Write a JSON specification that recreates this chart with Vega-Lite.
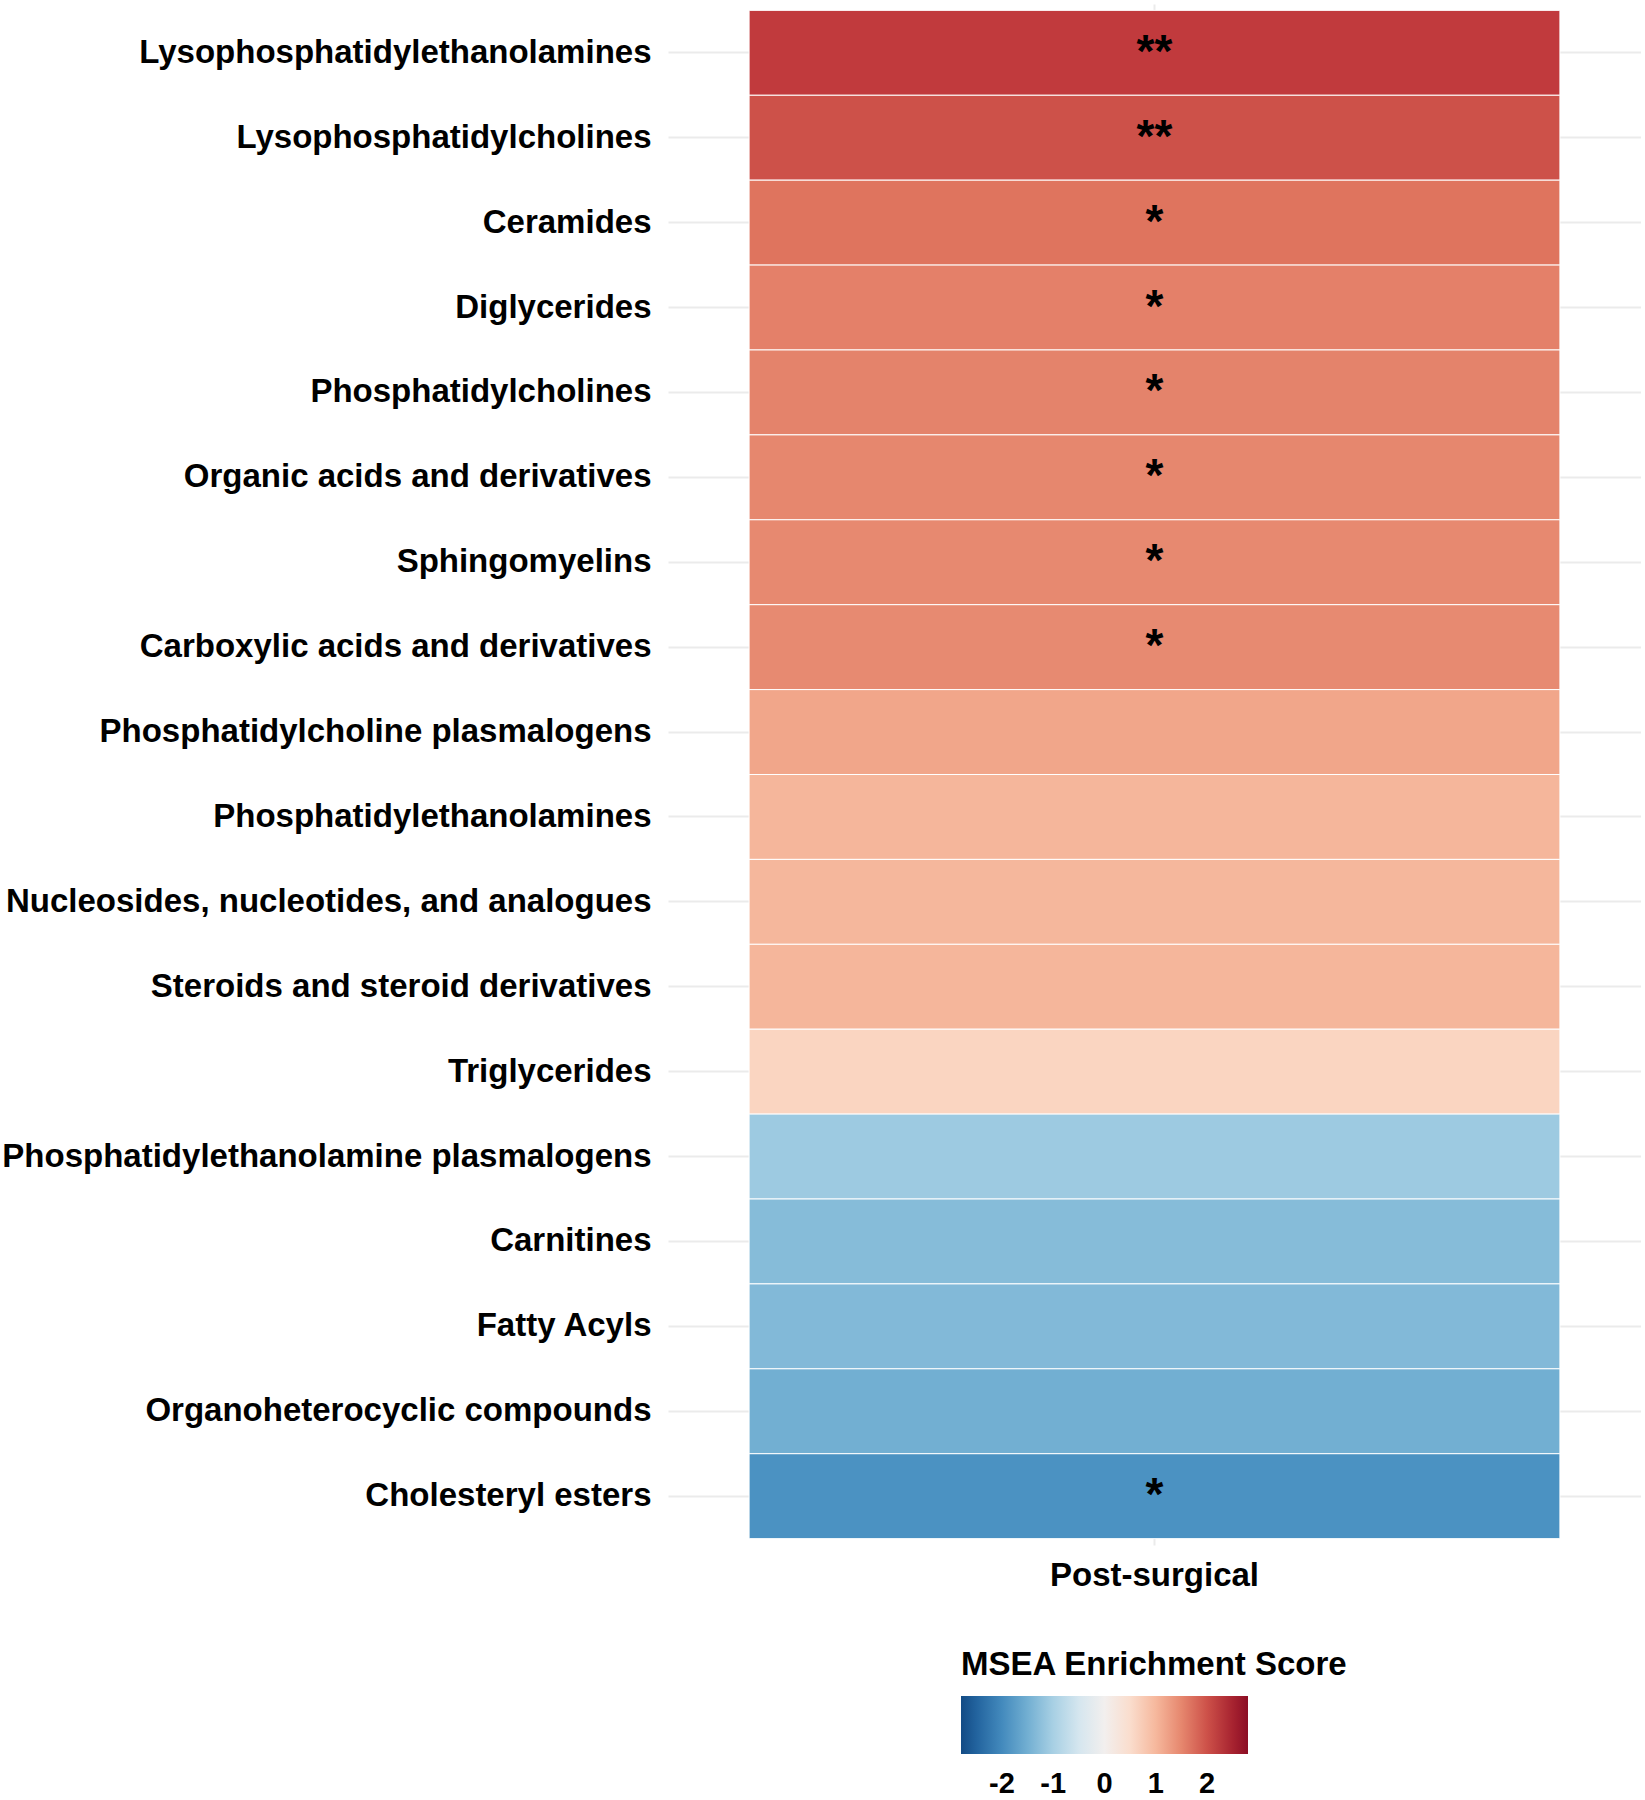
{
  "$schema": "https://vega.github.io/schema/vega-lite/v6.json",
  "width": 973,
  "height": 1541,
  "padding": {"left": 0, "top": 4, "right": 0, "bottom": 0},
  "background": "white",
  "data": {
    "values": [
      {"class": "Lysophosphatidylethanolamines", "group": "Post-surgical", "score": 2.2, "sig": "**"},
      {"class": "Lysophosphatidylcholines", "group": "Post-surgical", "score": 2.0, "sig": "**"},
      {"class": "Ceramides", "group": "Post-surgical", "score": 1.68, "sig": "*"},
      {"class": "Diglycerides", "group": "Post-surgical", "score": 1.56, "sig": "*"},
      {"class": "Phosphatidylcholines", "group": "Post-surgical", "score": 1.54, "sig": "*"},
      {"class": "Organic acids and derivatives", "group": "Post-surgical", "score": 1.50, "sig": "*"},
      {"class": "Sphingomyelins", "group": "Post-surgical", "score": 1.48, "sig": "*"},
      {"class": "Carboxylic acids and derivatives", "group": "Post-surgical", "score": 1.47, "sig": "*"},
      {"class": "Phosphatidylcholine plasmalogens", "group": "Post-surgical", "score": 1.2, "sig": ""},
      {"class": "Phosphatidylethanolamines", "group": "Post-surgical", "score": 1.02, "sig": ""},
      {"class": "Nucleosides, nucleotides, and analogues", "group": "Post-surgical", "score": 1.01, "sig": ""},
      {"class": "Steroids and steroid derivatives", "group": "Post-surgical", "score": 1.02, "sig": ""},
      {"class": "Triglycerides", "group": "Post-surgical", "score": 0.64, "sig": ""},
      {"class": "Phosphatidylethanolamine plasmalogens", "group": "Post-surgical", "score": -1.12, "sig": ""},
      {"class": "Carnitines", "group": "Post-surgical", "score": -1.32, "sig": ""},
      {"class": "Fatty Acyls", "group": "Post-surgical", "score": -1.36, "sig": ""},
      {"class": "Organoheterocyclic compounds", "group": "Post-surgical", "score": -1.5, "sig": ""},
      {"class": "Cholesteryl esters", "group": "Post-surgical", "score": -1.9, "sig": "*"}
    ]
  },
  "encoding": {
    "x": {
      "field": "group", "type": "nominal", "title": null,
      "scale": {"type": "band", "paddingInner": 0, "paddingOuter": 0.1},
      "axis": {
        "labelAngle": 0, "ticks": false, "tickSize": 0, "domain": false,
        "grid": true, "gridColor": "#EBEBEB", "gridWidth": 2, "bandPosition": 0.5,
        "zindex": 0,
        "labelFont": "Liberation Sans", "labelFontWeight": "bold", "labelFontSize": 33,
        "labelColor": "black", "labelPadding": 14, "labelLimit": 1000
      }
    },
    "y": {
      "field": "class", "type": "nominal", "sort": null, "title": null,
      "scale": {"type": "band", "paddingInner": 0, "paddingOuter": 0.075},
      "axis": {
        "ticks": false, "tickSize": 0, "domain": false,
        "grid": true, "gridColor": "#EBEBEB", "gridWidth": 2, "bandPosition": 0.5,
        "zindex": 0,
        "labelFont": "Liberation Sans", "labelFontWeight": "bold", "labelFontSize": 33,
        "labelColor": "black", "labelPadding": 17, "labelLimit": 1000,
        "minExtent": 668, "maxExtent": 668
      }
    }
  },
  "layer": [
    {
      "mark": {"type": "rect", "stroke": "white", "strokeWidth": 1},
      "encoding": {
        "color": {
          "field": "score", "type": "quantitative",
          "title": "MSEA Enrichment Score",
          "scale": {"scheme": "redblue", "reverse": true, "domain": [-2.8, 2.8]},
          "legend": {
            "orient": "none", "legendX": 293, "legendY": 1645,
            "direction": "horizontal",
            "gradientLength": 287, "gradientThickness": 58,
            "gradientStrokeWidth": 0,
            "values": [-2, -1, 0, 1, 2],
            "labelExpr": "toString(datum.value)",
            "titleFont": "Liberation Sans", "titleFontWeight": "bold", "titleFontSize": 33,
            "titleColor": "black", "titlePadding": 14, "titleLimit": 1000,
            "labelFont": "Liberation Sans", "labelFontWeight": "bold", "labelFontSize": 29,
            "labelColor": "black", "labelOffset": 16, "labelOverlap": false
          }
        }
      }
    },
    {
      "mark": {"type": "text", "font": "Liberation Sans", "fontWeight": "bold", "fontSize": 46, "baseline": "middle", "align": "center", "color": "black", "dy": 0},
      "encoding": {"text": {"field": "sig"}}
    }
  ],
  "config": {"view": {"stroke": null}}
}
